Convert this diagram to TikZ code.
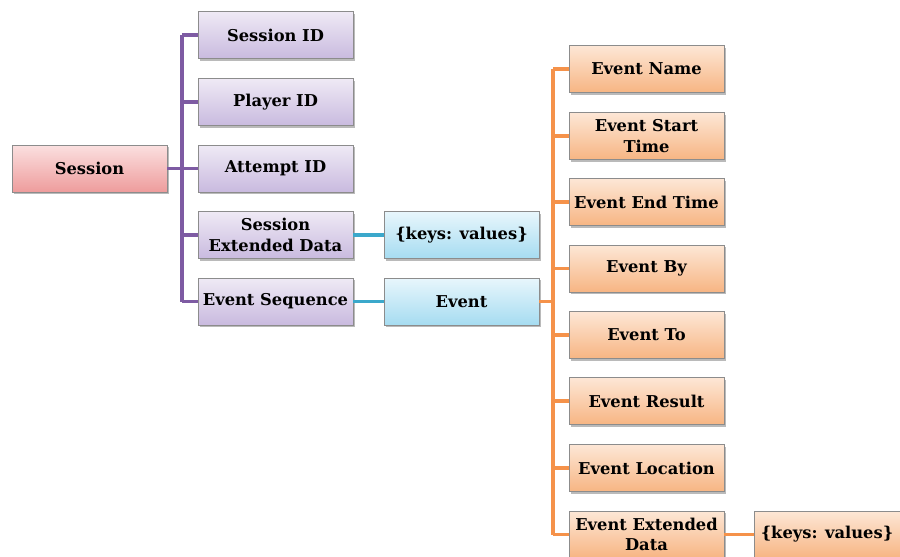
\documentclass[tikz,border=0pt]{standalone}
\usepackage{fontspec}
\setmainfont{DejaVu Serif}
\usetikzlibrary{shadows}
\definecolor{purT}{HTML}{EFEAF5}
\definecolor{purB}{HTML}{C9BADF}
\definecolor{pinkT}{HTML}{FBE0E0}
\definecolor{pinkB}{HTML}{EE9C9C}
\definecolor{bluT}{HTML}{E8F6FC}
\definecolor{bluB}{HTML}{A6DCF1}
\definecolor{orT}{HTML}{FDE7D6}
\definecolor{orB}{HTML}{F7B583}
\definecolor{bordr}{HTML}{8C8C8C}
\definecolor{purL}{HTML}{7E5BA3}
\definecolor{bluL}{HTML}{3BA8CB}
\definecolor{orL}{HTML}{F5924A}
\tikzset{
  box/.style={draw=bordr, line width=0.8pt, minimum width=155pt, minimum height=47pt,
    inner sep=1pt, align=center, font=\fontsize{16.3}{20.5}\selectfont\bfseries,
    drop shadow={shadow xshift=1.5pt, shadow yshift=-2pt, opacity=0.45, fill=black!60}},
  pbox/.style={box, top color=purT, bottom color=purB},
  rbox/.style={box, top color=pinkT, bottom color=pinkB},
  bbox/.style={box, top color=bluT, bottom color=bluB},
  obox/.style={box, top color=orT, bottom color=orB},
  pline/.style={draw=purL, line width=3.8pt},
  bline/.style={draw=bluL, line width=3.8pt},
  oline/.style={draw=orL, line width=3.8pt},
}
\begin{document}
\begin{tikzpicture}[x=1pt, y=-1pt]
\useasboundingbox (0,0) rectangle (900,557);
\clip (0,0) rectangle (900,557);
\fill[white] (0,0) rectangle (900,557);
% left part
\node[rbox] (s) at (89.5,168.5) {Session};
\node[pbox] (sid) at (275.5,35) {Session ID};
\node[pbox] (pid) at (275.5,102) {Player ID};
\node[pbox] (aid) at (275.5,168.5) {Attempt ID};
\node[pbox] (sed) at (275.5,235) {Session\\Extended Data};
\node[pbox] (es) at (275.5,301.5) {Event Sequence};
\node[bbox] (kv1) at (461.5,235) {\{keys: values\}};
\node[bbox] (ev) at (461.5,301.5) {Event};
% right part
\node[obox] (en) at (646.5,69) {Event Name};
\node[obox] (est) at (646.5,136) {Event Start\\Time};
\node[obox] (eet) at (646.5,202) {Event End Time};
\node[obox] (eby) at (646.5,268.5) {Event By};
\node[obox] (eto) at (646.5,335) {Event To};
\node[obox] (ere) at (646.5,401) {Event Result};
\node[obox] (elo) at (646.5,468) {Event Location};
\node[obox] (eed) at (646.5,534.5) {Event Extended\\Data};
\node[obox, minimum width=146pt] (kv2) at (827,534.5) {\{keys: values\}};
% connectors
\coordinate (pt) at (182,0);
\coordinate (ot) at (553,0);
\draw[pline] (pt |- sid.west) -- (pt |- es.west);
\foreach \n in {sid,pid,aid,sed,es} \draw[pline] (pt |- \n.west) -- (\n.west);
\draw[pline] (s.east) -- (pt |- s.east);
\draw[bline] (sed.east) -- (kv1.west);
\draw[bline] (es.east) -- (ev.west);
\draw[oline] (ot |- en.west) -- (ot |- eed.west);
\foreach \n in {en,est,eet,eby,eto,ere,elo,eed} \draw[oline] (ot |- \n.west) -- (\n.west);
\draw[oline] (ev.east) -- (ot |- ev.east);
\draw[oline] (eed.east) -- (kv2.west);
\end{tikzpicture}
\end{document}
